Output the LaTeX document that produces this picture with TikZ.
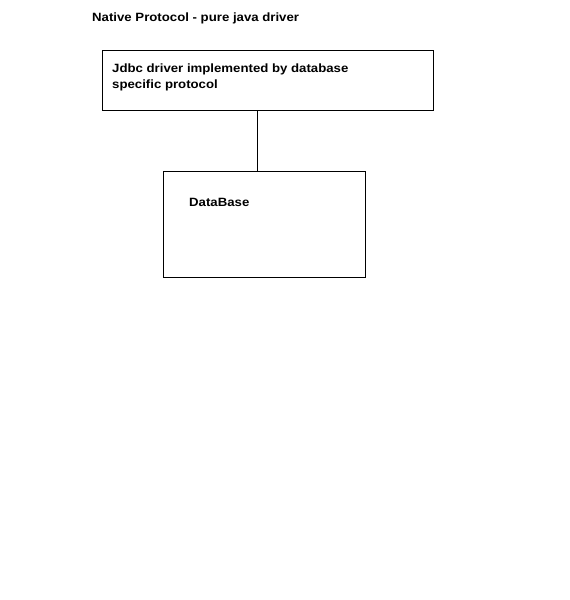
\documentclass[tikz,border=0pt]{standalone}
\usepackage{fontspec}
\setmainfont{Liberation Sans}
\newfontfamily\widesans[FakeStretch=1.1]{Liberation Sans}
\usetikzlibrary{calc}

\tikzset{
    plainbox/.style={draw, line width=1pt, inner sep=0pt, anchor=north west},
    boxtext/.style={inner sep=0pt, anchor=base west, align=left,
        font=\widesans\fontsize{12}{16.5}\selectfont\bfseries}
}

\begin{document}
\begin{tikzpicture}[x=1pt, y=-1pt]

    \useasboundingbox (0,0) rectangle (570,600);

    % title
    \node[boxtext] (Title) at (92,21.7) {Native Protocol - pure java driver};

    % driver box
    \node[plainbox, minimum width=331pt, minimum height=60pt] (Jdbc) at (102,50) {};
    % base of a two-line node sits on its last line
    \node[boxtext] (JdbcText) at ($(Jdbc.north west)+(10,38.7)$)
    {Jdbc driver implemented by database\\specific protocol};

    % database box
    \node[plainbox, minimum width=202pt, minimum height=106pt] (DataBase) at (163,171) {};
    \node[boxtext] (DataBaseText) at ($(DataBase.north west)+(26,35.7)$) {DataBase};

    % link between the two
    \coordinate (JdbcLink) at ($(Jdbc.south west)!0.468!(Jdbc.south east)$);
    \draw[line width=1pt] (JdbcLink) -- (JdbcLink |- DataBase.north);

\end{tikzpicture}
\end{document}
